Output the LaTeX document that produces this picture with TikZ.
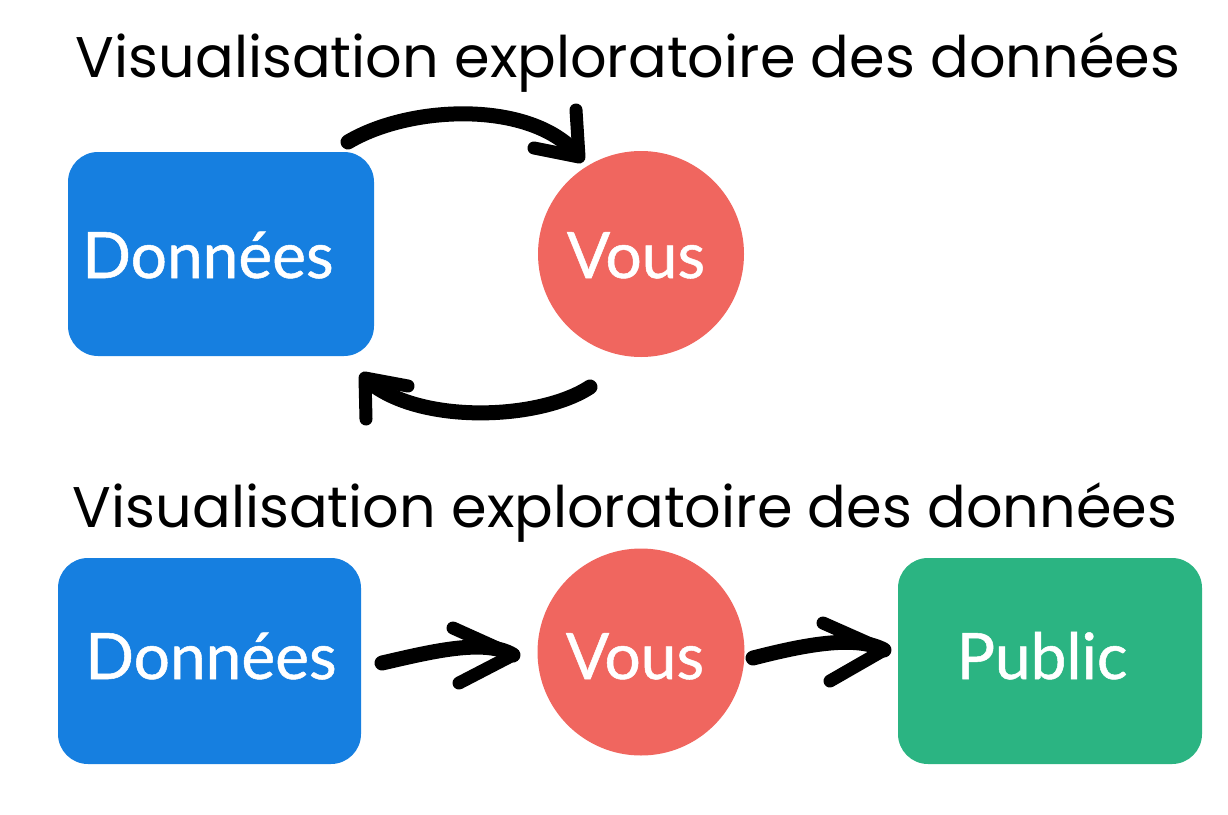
\documentclass[tikz,border=0pt]{standalone}
\usepackage{fontspec}
\newfontfamily\titlefont{Poppins}
\newfontfamily\boxfont[FakeBold=0.8]{Lato}
\definecolor{dblue}{HTML}{167FE0}
\definecolor{vred}{HTML}{F0665F}
\definecolor{pgreen}{HTML}{2BB482}
\begin{document}
\begin{tikzpicture}[x=1pt,y=-1pt,
  boxst/.style={fill=dblue,draw=none,rounded corners=30pt,inner sep=0pt},
  circst/.style={circle,fill=vred,draw=none,inner sep=0pt},
  lbl/.style={anchor=base,inner sep=0pt,text=white,font=\boxfont\fontsize{64}{64}\selectfont},
  ttl/.style={anchor=base,inner sep=0pt,font=\titlefont\fontsize{57.3}{57.3}\selectfont},
  body/.style={line width=15pt,line cap=round,draw=black},
  headst/.style={line width=13pt,line cap=round,line join=round,draw=black}]
\useasboundingbox (0,0) rectangle (1228,814);
% titles
\node[ttl] (t1) at (628,77) {Visualisation exploratoire des données};
\node[ttl] (t2) at (625,527) {Visualisation exploratoire des données};
% top row
\node[boxst,minimum width=306pt,minimum height=204pt] (d1) at (221,254) {};
\node[circst,minimum size=206pt] (v1) at (641,254) {};
\node[lbl] (d1t) at (208,278) {Données};
\node[lbl] (v1t) at (636,278) {Vous};
% bottom row
\node[boxst,minimum width=303pt,minimum height=206pt] (d2) at (209.5,661) {};
\node[circst,minimum size=207pt] (v2) at (641,652) {};
\node[boxst,fill=pgreen,minimum width=304pt,minimum height=206pt] (p2) at (1050,661) {};
\node[lbl] (d2t) at (211,679) {Données};
\node[lbl] (v2t) at (635,679) {Vous};
\node[lbl] (p2t) at (1042,679) {Public};
% top arrow
\coordinate (a1s) at (348,142);
\coordinate (a1e) at (577,154);
\coordinate (a1t) at (579,157);
\coordinate (a1h1) at (576,110);
\coordinate (a1h2) at (534,148);
\draw[body] (a1s) .. controls (410,105) and (530,100) .. (a1e);
\draw[headst] (a1h1) -- (a1t) -- (a1h2);
% return arrow
\coordinate (a2s) at (590,387);
\coordinate (a2e) at (368,381);
\coordinate (a2t) at (365,378);
\coordinate (a2h1) at (366,419);
\coordinate (a2h2) at (408,386);
\draw[body] (a2s) .. controls (540,420) and (420,425) .. (a2e);
\draw[headst] (a2h1) -- (a2t) -- (a2h2);
% bottom arrow 1
\coordinate (b1s) at (382,663);
\coordinate (b1t) at (513,655);
\coordinate (b1h1) at (453,628);
\coordinate (b1h2) at (459,683);
\draw[body] (b1s) .. controls (430,652) and (485,638) .. (b1t);
\draw[headst] (b1h1) -- (b1t) -- (b1h2);
% bottom arrow 2
\coordinate (b2s) at (753,658);
\coordinate (b2t) at (884,650);
\coordinate (b2h1) at (823,623);
\coordinate (b2h2) at (830,681);
\draw[body] (b2s) .. controls (800,646) and (855,634) .. (b2t);
\draw[headst] (b2h1) -- (b2t) -- (b2h2);
\end{tikzpicture}
\end{document}
